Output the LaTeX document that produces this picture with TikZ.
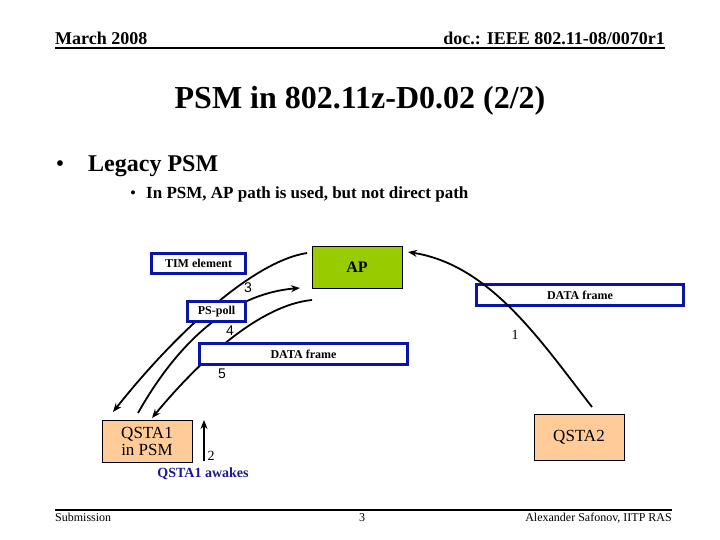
\documentclass[tikz,border=0pt]{standalone}
\usepackage{fontspec}
\setmainfont{Liberation Serif}
\setsansfont{Liberation Sans}
\usetikzlibrary{arrows.meta}
\definecolor{boxblue}{HTML}{0A14A8}
\definecolor{apgreen}{HTML}{99CC00}
\definecolor{peach}{HTML}{FFCC99}
\definecolor{navy}{HTML}{1A1A8C}
\tikzset{
  framebox/.style={draw=boxblue, line width=3pt, fill=white, inner sep=0pt, font=\fontsize{12}{12}\selectfont\bfseries},
  stabox/.style={draw=black, line width=0.8pt, fill=peach, inner sep=0pt, align=center, font=\fontsize{17}{17}\selectfont},
  flow/.style={line width=1.8pt, -{Stealth[length=9pt,width=7pt]}},
  num/.style={font=\fontsize{14}{14}\selectfont, inner sep=0pt},
  numsans/.style={font=\sffamily\fontsize{14}{14}\selectfont, inner sep=0pt},
  txt/.style={inner sep=0pt},
}
\begin{document}
\begin{tikzpicture}[x=1pt,y=-1pt]
\useasboundingbox (0,0) rectangle (720,540);
% header / footer
\node[txt, anchor=base west, font=\fontsize{18}{18}\selectfont\bfseries] (hl) at (55,45) {March 2008};
\node[txt, anchor=base east, font=\fontsize{18}{18}\selectfont\bfseries] (hr) at (665,45) {doc.: IEEE 802.11-08/0070r1};
\draw[line width=2pt] (55,48.5) -- (665,48.5);
\draw[line width=2pt] (55,510) -- (672,510);
\node[txt, anchor=base west, font=\fontsize{12}{12}\selectfont] (fl) at (55,521) {Submission};
\node[txt, anchor=base, font=\fontsize{12}{12}\selectfont] (fc) at (362,521) {3};
\node[txt, anchor=base east, font=\fontsize{12}{12}\selectfont] (fr) at (672,521) {Alexander Safonov, IITP RAS};
% title and bullets
\node[txt, anchor=base, font=\fontsize{32}{32}\selectfont\bfseries] (title) at (360,109) {PSM in 802.11z-D0.02 (2/2)};
\node[txt, anchor=base, font=\fontsize{24}{24}\selectfont] (bu1) at (60,172) {\textbullet};
\node[txt, anchor=base west, font=\fontsize{24}{24}\selectfont\bfseries] (b1) at (88,172) {Legacy PSM};
\node[txt, anchor=base, font=\fontsize{17}{17}\selectfont] (bu2) at (133,199) {\textbullet};
\node[txt, anchor=base west, font=\fontsize{17}{17}\selectfont\bfseries] (b2) at (146,199) {In PSM, AP path is used, but not direct path};
% curve endpoints
\coordinate (a3s) at (307,253);
\coordinate (a3e) at (113,412);
\coordinate (a4s) at (138,413);
\coordinate (a4e) at (300,288);
\coordinate (a5s) at (312,300);
\coordinate (a5e) at (152,418);
\coordinate (a1s) at (592,407);
\coordinate (a1e) at (408,252);
\coordinate (a2s) at (204,461);
\coordinate (a2e) at (204,420);
% curves from/to QSTA1 (behind the frame boxes)
\draw[flow] (a3s) .. controls (250,262) and (170,340) .. (a3e);
\draw[flow] (a4s) .. controls (185,330) and (240,293) .. (a4e);
\draw[flow] (a5s) .. controls (260,305) and (200,360) .. (a5e);
% boxes
\node[framebox, minimum width=94pt, minimum height=20pt] (tim) at (198.5,263.5) {TIM element};
\node[draw=black, line width=0.8pt, fill=apgreen, minimum width=90pt, minimum height=42pt, inner sep=0pt, font=\fontsize{16}{16}\selectfont\bfseries] (ap) at (357,267) {AP};
\node[framebox, minimum width=58pt, minimum height=20pt] (ps) at (216.5,311.5) {PS-poll};
\node[framebox, minimum width=208pt, minimum height=21pt] (dm) at (303.5,354) {DATA frame};
\node[framebox, minimum width=207pt, minimum height=21pt] (dr) at (580,295) {DATA frame};
\node[stabox, minimum width=90pt, minimum height=42pt] (q1) at (147,441) {QSTA1\\in PSM};
\node[stabox, minimum width=90pt, minimum height=46pt] (q2) at (579,437) {QSTA2};
% curve from QSTA2 (over the frame box)
\draw[flow] (a1s) .. controls (540,340) and (490,265) .. (a1e);
\draw[flow] (a2s) -- (a2e);
% step labels
\node[numsans] (n3) at (248,288) {3};
\node[numsans] (n4) at (230,331) {4};
\node[numsans] (n5) at (222,374) {5};
\node[num] (n1) at (515,335) {1};
\node[num] (n2) at (211,456) {2};
\node[txt, text=navy, font=\fontsize{14}{14}\selectfont\bfseries] (aw) at (203,474) {QSTA1 awakes};
\end{tikzpicture}
\end{document}
